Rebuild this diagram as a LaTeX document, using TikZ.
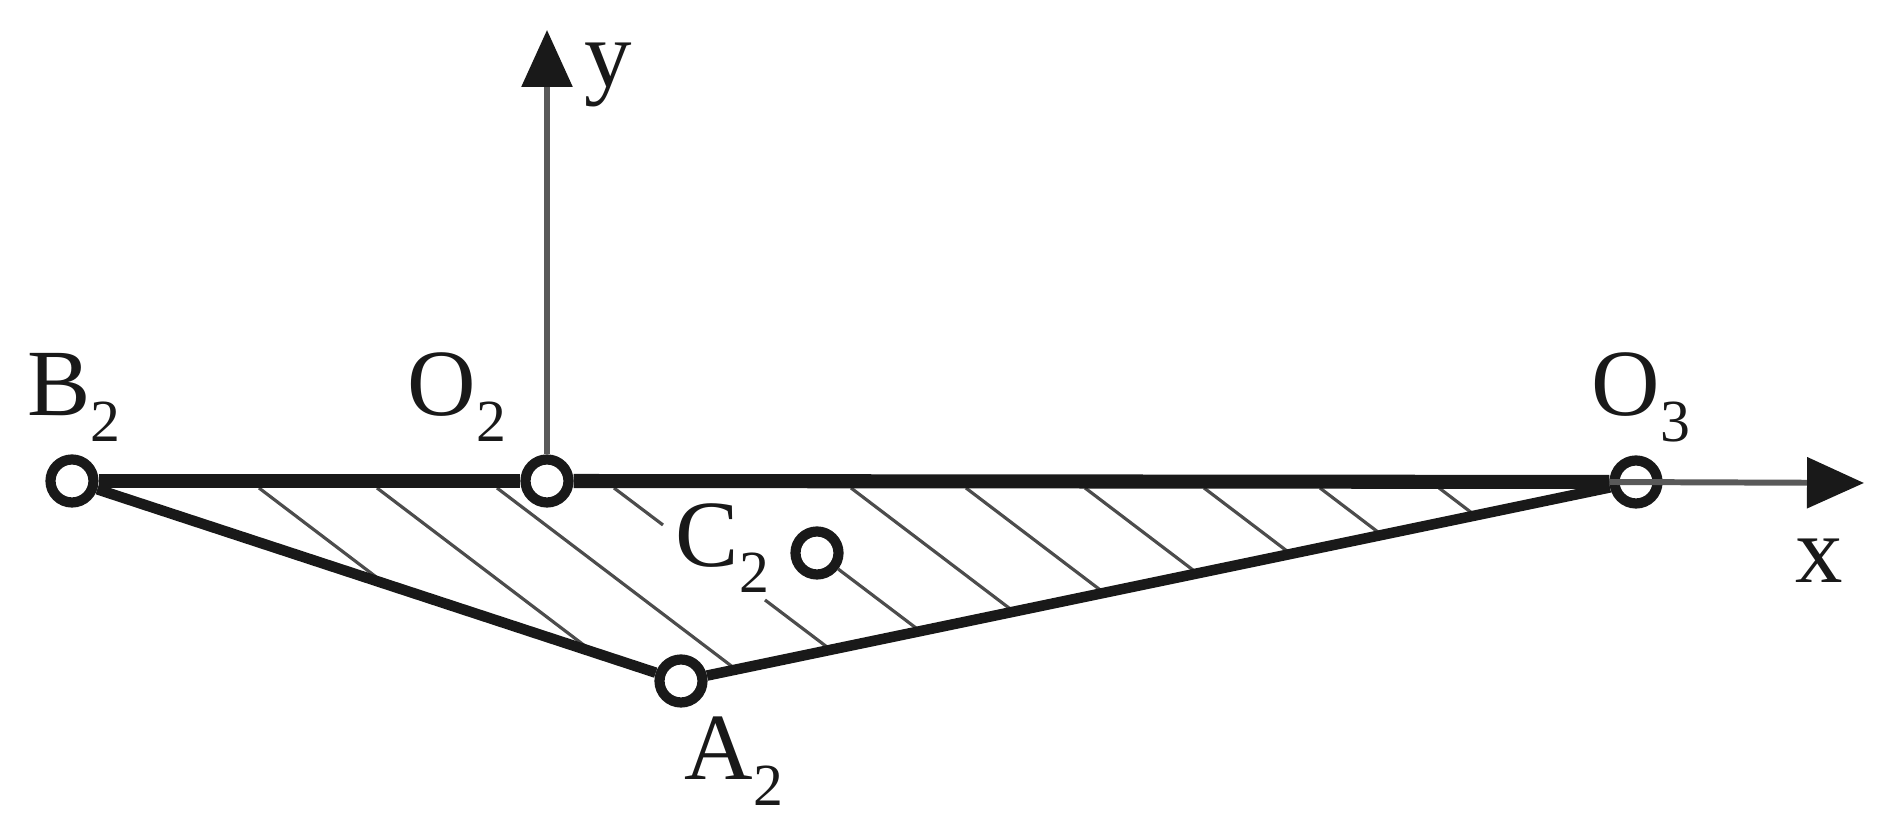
\documentclass[tikz,border=0pt]{standalone}
\usepackage{fontspec}
\setmainfont{Liberation Serif}
\usetikzlibrary{arrows.meta}
\newcommand{\lab}[2]{#1{\fontsize{17}{17}\selectfont\raisebox{-0.42em}{#2}}}
\tikzset{
  pin/.style={circle,draw=black!90,line width=2.9pt,minimum size=0.43cm,inner sep=0pt},
  txt/.style={anchor=base west,inner sep=0pt,font=\fontsize{27}{27}\selectfont,text=black!90},
  bar/.style={draw=black!90,line width=4pt},
  edge/.style={draw=black!90,line width=3pt},
  axis/.style={draw=black!65,line width=1.7pt,-{Triangle[length=0.57cm,width=0.5cm,black!90]}},
  hatch/.style={draw=black!70,line width=0.9pt}
}
\begin{document}
\begin{tikzpicture}
   \useasboundingbox (0,0) rectangle (18.9,8.38);
   \node[pin] (B2) at (0.72,3.57) {};
   \node[pin] (O2) at (5.47,3.57) {};
   \node[pin] (O3) at (16.36,3.56) {};
   \node[pin] (A2) at (6.81,1.57) {};
   \node[pin] (C2) at (8.17,2.85) {};
   \coordinate (xtip) at (18.64,3.55);
   \coordinate (ytip) at (5.47,8.08);

   % hatching, cut off by the plate outline
   \begin{scope}
      \clip (B2.center) -- (O3.center) -- (A2.center) -- cycle;
      \foreach \s in {2.59,3.77,4.97,8.51,9.66,10.85,12.04,13.20,14.39}
         \draw[hatch] (\s,3.5) -- ++(3.95,-3);
      \draw[hatch] (6.14,3.5) -- (6.63,3.13);
      \draw[hatch] (7.65,2.38) -- ++(1.32,-1);
      \draw[hatch] (C2) -- ++(1.32,-1);
   \end{scope}

   \draw[axis] (O2) -- (ytip);
   \draw[axis] (O3.west) -- (xtip);
   \draw[bar] (B2) -- (O2);
   \draw[bar] (O2) -- (O3);
   \draw[edge] (B2) -- (A2);
   \draw[edge] (A2) -- (O3);

   \node[txt] (lB) at (0.27,4.22) {\lab{B}{2}};
   \node[txt] (lO2) at (4.07,4.22) {\lab{O}{2}};
   \node[txt] (lO3) at (15.91,4.22) {\lab{O}{3}};
   \node[txt] (lA) at (6.84,0.58) {\lab{A}{2}};
   \node[txt] (lC) at (6.75,2.71) {\lab{C}{2}};
   \node[txt] (ly) at (5.84,7.51) {y};
   \node[txt] (lx) at (17.95,2.55) {x};
\end{tikzpicture}
\end{document}
